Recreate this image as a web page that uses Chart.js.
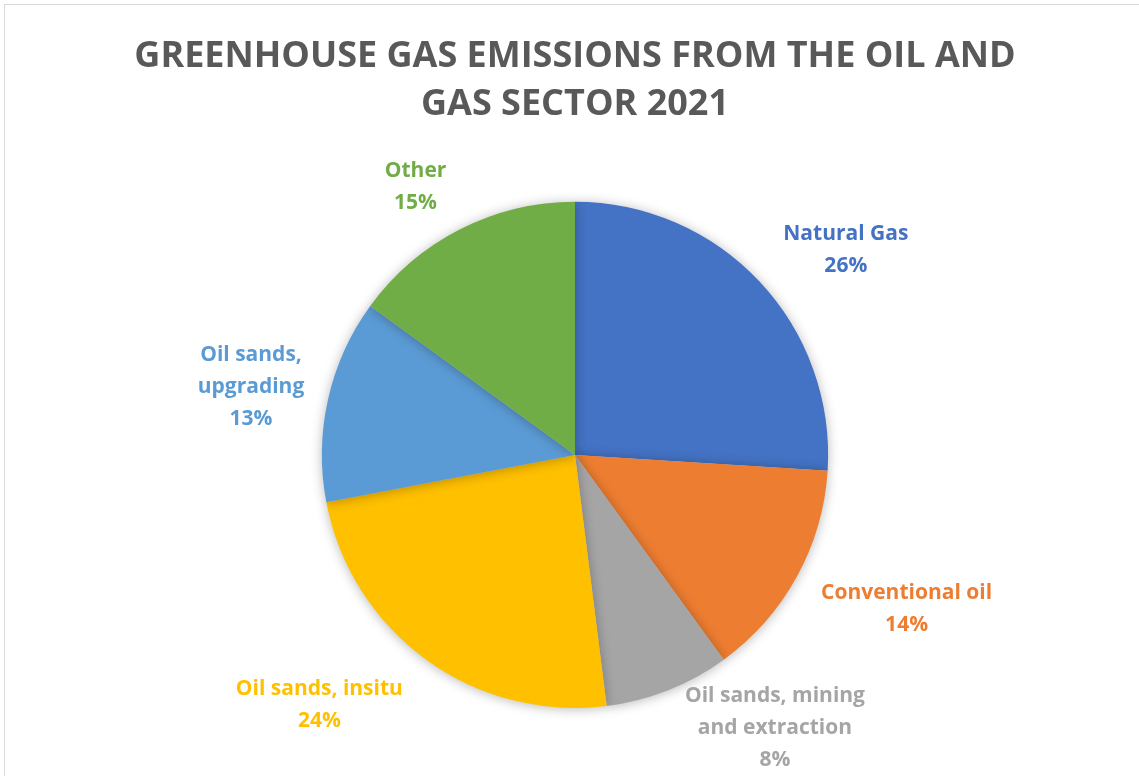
<!DOCTYPE html>
<html>

<head>
    <title>Greenhouse gas emissions from the oil and gas sector 2021</title>
    <style>
        html, body {
            margin: 0;
            padding: 0;
            background: #ffffff;
        }

        #frame {
            position: absolute;
            left: 4px;
            top: 4px;
            width: 1200px;
            height: 900px;
            border: 1px solid #d9d9d9;
            box-sizing: border-box;
        }

        #wrap {
            position: absolute;
            left: 0;
            top: 0;
            width: 1139px;
            height: 776px;
        }
    </style>
</head>

<body>
    <div id="frame"></div>
    <div id="wrap">
        <canvas id="sectorPie"></canvas>
    </div>

    <script src="https://cdn.jsdelivr.net/npm/chart.js"></script>

    <script>
        const sectors = [
            ['Natural Gas'],
            ['Conventional oil'],
            ['Oil sands, mining', 'and extraction'],
            ['Oil sands, insitu'],
            ['Oil sands,', 'upgrading'],
            ['Other']
        ]
        const shares = [26, 14, 8, 24, 13, 15]
        const colours = ['#4472C4', '#ED7D31', '#A5A5A5', '#FFC000', '#5B9BD5', '#70AD47']

        // where each label sits, as a multiple of the radius from the centre
        const labelSpots = [
            [1.07, -0.81],
            [1.31, 0.61],
            [0.79, 1.08],
            [-1.01, 0.99],
            [-1.28, -0.27],
            [-0.63, -1.06]
        ]

        const fontFamily = "'Open Sans', 'Noto Sans', sans-serif"

        // soft shadow behind the whole pie
        const pieShadow = {
            id: 'pieShadow',
            beforeDatasetDraw(chart) {
                const ctx = chart.ctx
                ctx.save()
                ctx.shadowColor = 'rgba(0, 0, 0, 0.28)'
                ctx.shadowBlur = 12
                ctx.shadowOffsetX = 0
                ctx.shadowOffsetY = 1
            },
            afterDatasetDraw(chart) {
                chart.ctx.restore()
            }
        }

        // category name and percentage outside each slice
        const sliceLabels = {
            id: 'sliceLabels',
            afterDatasetsDraw(chart) {
                const ctx = chart.ctx
                const arcs = chart.getDatasetMeta(0).data
                ctx.save()
                ctx.font = "bold 21px " + fontFamily
                ctx.textAlign = 'center'
                ctx.textBaseline = 'middle'
                arcs.forEach((arc, i) => {
                    const r = arc.outerRadius
                    const x = arc.x + labelSpots[i][0] * r
                    const lines = sectors[i].concat([shares[i] + '%'])
                    const lh = 32
                    let y = arc.y + labelSpots[i][1] * r - (lines.length - 1) * lh / 2
                    ctx.fillStyle = colours[i]
                    lines.forEach((line, j) => {
                        ctx.fillText(line, x, y + j * lh)
                    })
                })
                ctx.restore()
            }
        }

        const ctx = document.getElementById('sectorPie')
        new Chart(ctx, {
            type: 'pie',
            data: {
                labels: sectors.map(s => s.join(' ')),
                datasets: [{
                    data: shares,
                    backgroundColor: colours,
                    borderWidth: 0
                }]
            },
            options: {
                responsive: true,
                maintainAspectRatio: false,
                animation: false,
                layout: {
                    padding: { top: 9, bottom: 68, left: 11, right: 0 }
                },
                plugins: {
                    legend: { display: false },
                    tooltip: { enabled: false },
                    title: {
                        display: true,
                        text: ['GREENHOUSE GAS EMISSIONS FROM THE OIL AND', 'GAS SECTOR 2021'],
                        color: '#595959',
                        font: { family: fontFamily, size: 36, weight: 'bold', lineHeight: 1.33 },
                        padding: { top: 24, bottom: 73 }
                    }
                }
            },
            plugins: [pieShadow, sliceLabels]
        })
    </script>
</body>

</html>
